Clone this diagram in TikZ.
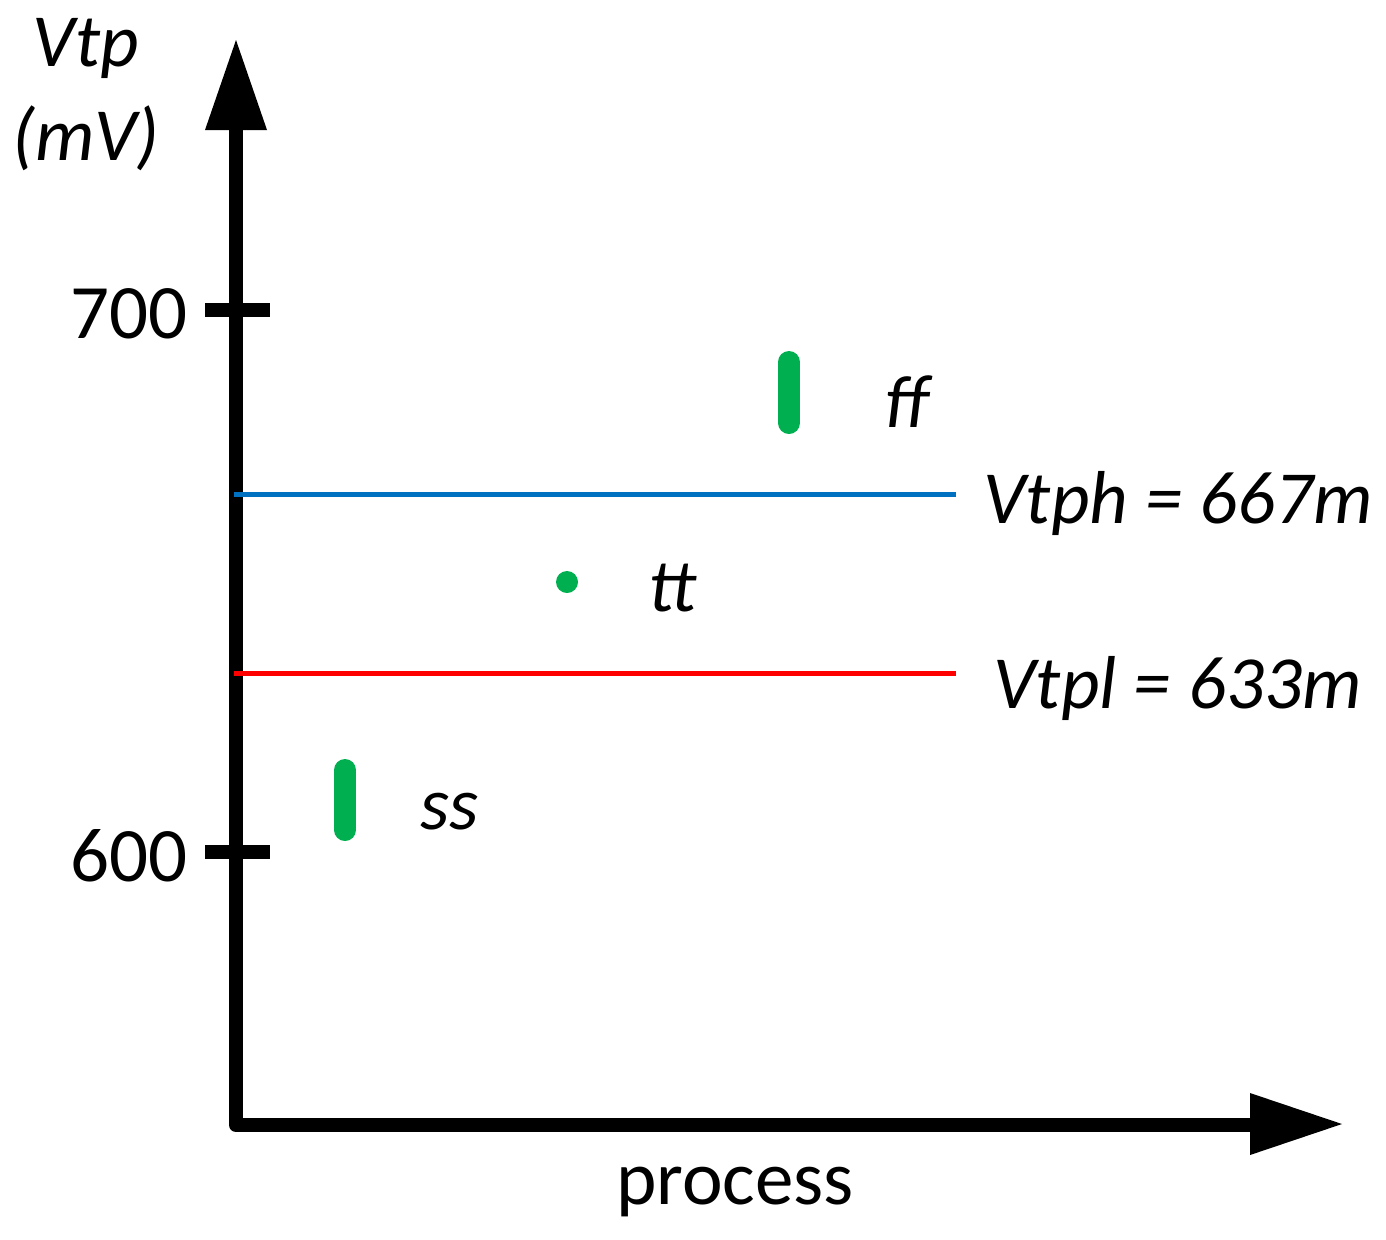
\documentclass[tikz,border=0pt]{standalone}
\usepackage{fontspec}
\setmainfont{Carlito}
\definecolor{gr}{RGB}{0,176,80}
\definecolor{bl}{RGB}{0,112,192}
\begin{document}
\begin{tikzpicture}[x=0.5pt,y=-0.5pt,
  ax/.style={line width=7pt},
  lab/.style={font=\fontsize{37.5}{44}\selectfont\itshape,inner sep=0pt},
  num/.style={font=\fontsize{38.5}{44}\selectfont,inner sep=0pt},
  gmark/.style={gr,line width=11pt,line cap=round}]
\useasboundingbox (0,0) rectangle (1386,1239);
\coordinate (o) at (236,1125);
\coordinate (yt) at (236,130);
\coordinate (xt) at (1250,1125);
\draw[ax,line cap=round,line join=round] (yt) -- (o) -- (xt);
\fill (205,130) -- (236,40) -- (267,130) -- cycle;
\fill (1250,1093) -- (1342,1124) -- (1250,1155) -- cycle;
\draw[ax] (205,310) -- (270,310);
\draw[ax] (205,852) -- (270,852);
\node[num,anchor=east] (t700) at (188,314) {700};
\node[num,anchor=east] (t600) at (188,856) {600};
\draw[bl,line width=2.5pt] (234,494) -- (956,494);
\draw[red,line width=2.5pt] (234,673) -- (956,673);
\draw[gmark] (789,362) -- (789,423);
\draw[gmark] (345,770) -- (345,830);
\fill[gr] (567,582) circle (5.5pt);
\node[lab] (ff) at (906,402) {ff};
\node[lab] (tt) at (672,588) {tt};
\node[lab] (ss) at (450,812) {ss};
\node[lab,anchor=west] (vh) at (983,503) {Vtph = 667m};
\node[lab,anchor=west] (vl) at (993,688) {Vtpl = 633m};
\node[lab] (vtp) at (86,48) {Vtp};
\node[lab] (mv) at (86,138) {(mV)};
\node[num] (pr) at (735,1192) {process};
\end{tikzpicture}
\end{document}
